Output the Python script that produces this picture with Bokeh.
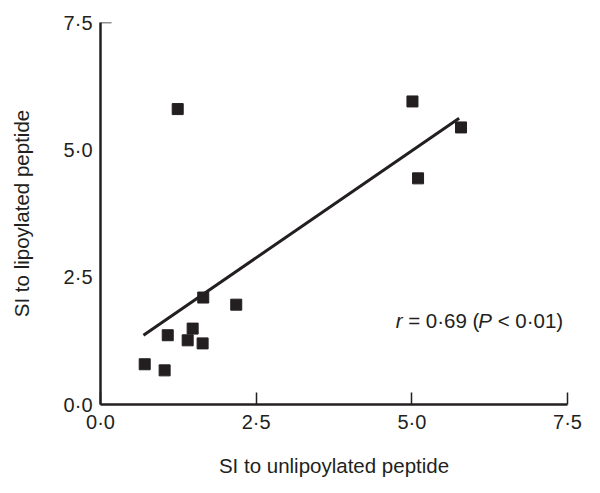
from bokeh.plotting import figure
from bokeh.models import Range1d, FixedTicker, LinearAxis, Label, ColumnDataSource
from bokeh.embed import file_html
from bokeh.resources import INLINE

# Data
unlipoylated = [0.71, 1.03, 1.08, 1.24, 1.40, 1.48, 1.64, 1.65, 2.18, 5.01, 5.10, 5.79]
lipoylated = [0.79, 0.67, 1.36, 5.80, 1.26, 1.49, 1.20, 2.10, 1.96, 5.95, 4.44, 5.44]
fit_x = [0.69, 5.76]
fit_y = [1.36, 5.62]
ticks = [0, 2.5, 5.0, 7.5]
tick_labels = {0: "0·0", 2.5: "2·5", 5.0: "5·0", 7.5: "7·5"}
x_title = "SI to unlipoylated peptide"
y_title = "SI to lipoylated peptide"
stat_parts = ["r", "\u00a0=\u00a00·69\u00a0(", "P", "\u00a0<\u00a00·01)"]

INK = "#231f20"
FONT = "Liberation Sans"
FS = "20.5px"

p = figure(width=592, height=485, output_backend="svg", toolbar_location=None,
           x_range=Range1d(0, 7.5), y_range=Range1d(0, 7.5),
           min_border_left=100, min_border_right=25, min_border_top=22, min_border_bottom=81)
p.outline_line_color = None
p.xgrid.visible = False
p.ygrid.visible = False
p.background_fill_color = "white"
p.border_fill_color = "white"

for ax in (p.xaxis[0], p.yaxis[0]):
    ax.ticker = FixedTicker(ticks=ticks)
    ax.major_label_overrides = tick_labels
    ax.minor_tick_line_color = None
    ax.axis_line_width = 2.5
    ax.axis_line_color = INK
    ax.major_tick_line_color = INK
    ax.major_tick_line_width = 1.5
    ax.major_label_text_font = FONT
    ax.major_label_text_font_size = "20px"
    ax.major_label_text_color = INK
    ax.axis_label_text_font = FONT
    ax.axis_label_text_font_size = FS
    ax.axis_label_text_font_style = "normal"
    ax.axis_label_text_color = INK

p.xaxis[0].axis_label = x_title
p.xaxis[0].major_tick_in = 12
p.xaxis[0].major_tick_out = 0
p.xaxis[0].major_label_standoff = 6
p.xaxis[0].axis_label_standoff = 18

p.yaxis[0].axis_label = y_title
p.yaxis[0].major_tick_in = 0
p.yaxis[0].major_tick_out = 0
p.yaxis[0].major_label_standoff = 8
p.yaxis[0].axis_label_standoff = 28

# short cap at the top of the y axis, drawn as a bounded axis line
cap = LinearAxis(ticker=FixedTicker(ticks=[]), fixed_location=7.5, bounds=(0, 0.17),
                 axis_line_color=INK, axis_line_width=1.5,
                 major_tick_line_color=None, minor_tick_line_color=None)
p.add_layout(cap, "above")

src = ColumnDataSource(dict(x=unlipoylated, y=lipoylated))
p.scatter("x", "y", source=src, marker="square", size=11, fill_color=INK, line_color=INK)
p.line(fit_x, fit_y, line_width=3, line_color=INK)

# stat annotation; pieces laid side by side (Arial-metric widths in em)
em = 20.5
widths = [0.333, 3.697, 0.667, 3.419]
offsets = [0.0]
for w in widths[:-1]:
    offsets.append(offsets[-1] + w * em)
styles = ["italic", "normal", "italic", "normal"]
for t, off, st in zip(stat_parts, offsets, styles):
    p.add_layout(Label(x=4.74, y=1.65, x_offset=off, text=t, text_font=FONT,
                       text_font_size=FS, text_font_style=st, text_color=INK,
                       text_baseline="middle", text_align="left"))

open("out.html", "w").write(file_html(p, INLINE))
